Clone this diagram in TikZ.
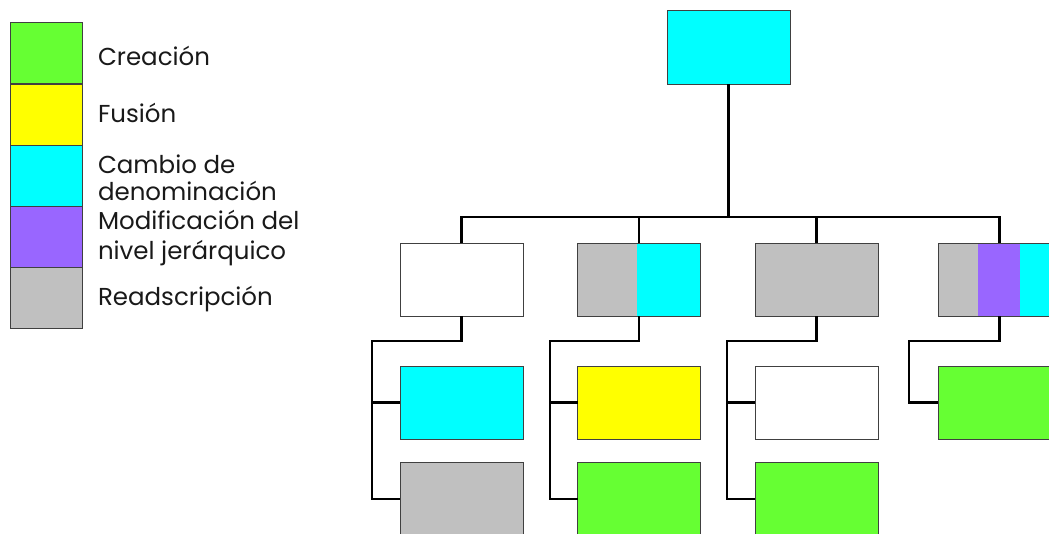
\documentclass[tikz,border=0pt]{standalone}
\usepackage{fontspec}
\setmainfont{Poppins}
\definecolor{cgreen}{HTML}{66FF33}
\definecolor{cyellow}{HTML}{FFFF00}
\definecolor{ccyan}{HTML}{00FFFF}
\definecolor{cpurple}{HTML}{9966FF}
\definecolor{cgray}{HTML}{C0C0C0}
\definecolor{cborder}{HTML}{404040}
\begin{document}
\begin{tikzpicture}[x=1pt,y=-1pt,
  box/.style={draw=cborder,line width=0.9pt,minimum width=123pt,minimum height=73pt,inner sep=0pt,outer sep=0pt},
  legbox/.style={draw=cborder,line width=0.9pt,minimum width=72pt,minimum height=61pt,inner sep=0pt,outer sep=0pt},
  legtext/.style={inner sep=0pt,outer sep=0pt,align=left,font=\fontsize{24.5}{27}\selectfont,text=black!90},
  conn/.style={line width=2.3pt,black}]
\useasboundingbox (0,0) rectangle (1049,533);
\clip (0,0) rectangle (1049,533);
% legend
\node[legbox,fill=cgreen]  (lg1) at (46,53) {};
\node[legbox,fill=cyellow] (lg2) at (46,114.5) {};
\node[legbox,fill=ccyan]   (lg3) at (46,175.5) {};
\node[legbox,fill=cpurple] (lg4) at (46,236.5) {};
\node[legbox,fill=cgray]   (lg5) at (46,297.5) {};
\node[legtext,anchor=base west] (lt1) at (98,65) {Creación};
\node[legtext,anchor=base west] (lt2) at (98,122) {Fusión};
\node[legtext,anchor=north west] (lt3) at (98,155) {Cambio de\\denominación};
\node[legtext,anchor=north west,font=\fontsize{24.5}{30}\selectfont] (lt4) at (98,210) {Modificación del\\nivel jerárquico};
\node[legtext,anchor=base west] (lt5) at (98,305) {Readscripción};
% top
\node[box,fill=ccyan,minimum height=74pt] (t) at (728.5,47) {};
% level 2
\node[box,fill=white] (b1) at (461.5,279.5) {};
\fill[cgray] (578,243) rectangle (637,316);
\fill[ccyan] (637,243) rectangle (700,316);
\node[box] (b2) at (639,279.5) {};
\node[box,fill=cgray] (b3) at (816.5,279.5) {};
\fill[cgray] (938,243) rectangle (978,316);
\fill[cpurple] (978,243) rectangle (1020,316);
\fill[ccyan] (1020,243) rectangle (1061,316);
\node[box] (b4) at (999.5,279.5) {};
% level 3
\node[box,fill=ccyan]   (c1a) at (461.5,402.5) {};
\node[box,fill=cgray]   (c1b) at (461.5,499) {};
\node[box,fill=cyellow] (c2a) at (639,402.5) {};
\node[box,fill=cgreen]  (c2b) at (639,499) {};
\node[box,fill=white]   (c3a) at (816.5,402.5) {};
\node[box,fill=cgreen]  (c3b) at (816.5,499) {};
\node[box,fill=cgreen]  (c4a) at (999.5,402.5) {};
% connectors
\coordinate (bar) at (0,217);
\draw[conn] (t.south) -- (t.south |- bar);
\draw[conn] (b1.north) |- (b4.north |- bar) -- (b4.north);
\draw[conn] (b2.north) -- (b2.north |- bar);
\draw[conn] (b3.north) -- (b3.north |- bar);
\coordinate (k1) at (372,341);
\coordinate (k2) at (550,341);
\coordinate (k3) at (727,341);
\coordinate (k4) at (909,341);
\draw[conn] (b1.south) |- (k1) |- (c1b.west);
\draw[conn] (k1 |- c1a.west) -- (c1a.west);
\draw[conn] (b2.south) |- (k2) |- (c2b.west);
\draw[conn] (k2 |- c2a.west) -- (c2a.west);
\draw[conn] (b3.south) |- (k3) |- (c3b.west);
\draw[conn] (k3 |- c3a.west) -- (c3a.west);
\draw[conn] (b4.south) |- (k4) |- (c4a.west);
\end{tikzpicture}
\end{document}
